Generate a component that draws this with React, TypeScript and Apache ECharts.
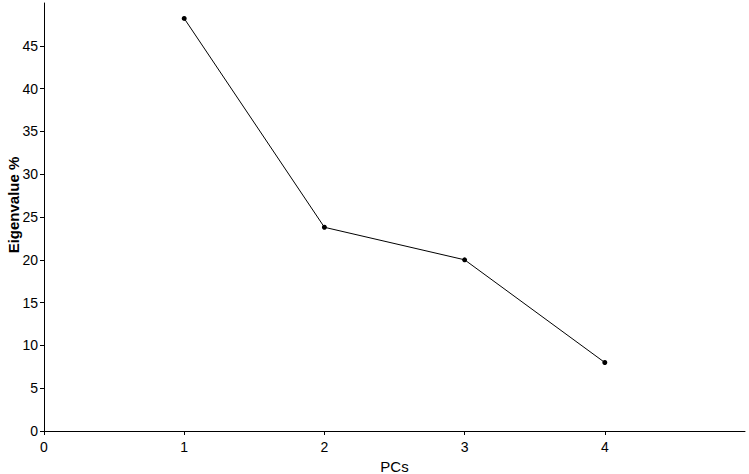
import React, { useEffect, useRef } from "react";
import * as echarts from "echarts";

const pcs = [1, 2, 3, 4];
const eigenvalues = [48.2, 23.8, 20.0, 8.0];
const xTicks = [0, 1, 2, 3, 4];
const yTicks = [0, 5, 10, 15, 20, 25, 30, 35, 40, 45];

const narrow = "'Liberation Sans Narrow', 'Arial Narrow', 'Liberation Sans', Arial, sans-serif";

export default function App() {
  const ref = useRef<HTMLDivElement>(null);
  useEffect(() => {
    if (!ref.current) return;
    const chart = echarts.init(ref.current, null, { renderer: "svg" });
    chart.setOption({
      animation: false,
      backgroundColor: "#ffffff",
      grid: { left: 44, right: 4, top: 3, bottom: 43, containLabel: false, outerBoundsMode: "none" },
      xAxis: {
        type: "value",
        min: 0,
        max: 5,
        interval: 1,
        name: "PCs",
        nameLocation: "middle",
        nameGap: 28,
        nameTextStyle: { fontFamily: narrow, fontSize: 15, color: "#000" },
        axisLine: { show: true, onZero: false, lineStyle: { color: "#000", width: 1 } },
        axisTick: { show: true, length: 4, inside: false, customValues: xTicks, lineStyle: { color: "#000" } },
        axisLabel: { customValues: xTicks, margin: 9, fontFamily: narrow, fontSize: 14, color: "#000" },
        splitLine: { show: false },
      },
      yAxis: {
        type: "value",
        min: 0,
        max: 50,
        interval: 5,
        axisLine: { show: true, onZero: false, lineStyle: { color: "#000", width: 1 } },
        axisTick: { show: true, length: 4, inside: false, customValues: yTicks, lineStyle: { color: "#000" } },
        axisLabel: { customValues: yTicks, margin: 6, fontFamily: narrow, fontSize: 14, color: "#000" },
        splitLine: { show: false },
      },
      graphic: [
        {
          type: "text",
          x: 13,
          y: 205,
          rotation: Math.PI / 2,
          style: {
            text: "Eigenvalue %",
            fontFamily: "'Liberation Sans', Arial, sans-serif",
            fontWeight: "bold",
            fontSize: 15,
            fill: "#000",
            textAlign: "center",
            textVerticalAlign: "middle",
          },
        },
      ],
      series: [
        {
          type: "line",
          data: pcs.map((p, i) => [p, eigenvalues[i]]),
          symbol: "circle",
          symbolSize: 5,
          lineStyle: { color: "#000", width: 1 },
          itemStyle: { color: "#000" },
        },
      ],
    });
    return () => chart.dispose();
  }, []);
  return <div ref={ref} style={{ width: 749, height: 474, position: "absolute", left: 0, top: 0 }} />;
}
